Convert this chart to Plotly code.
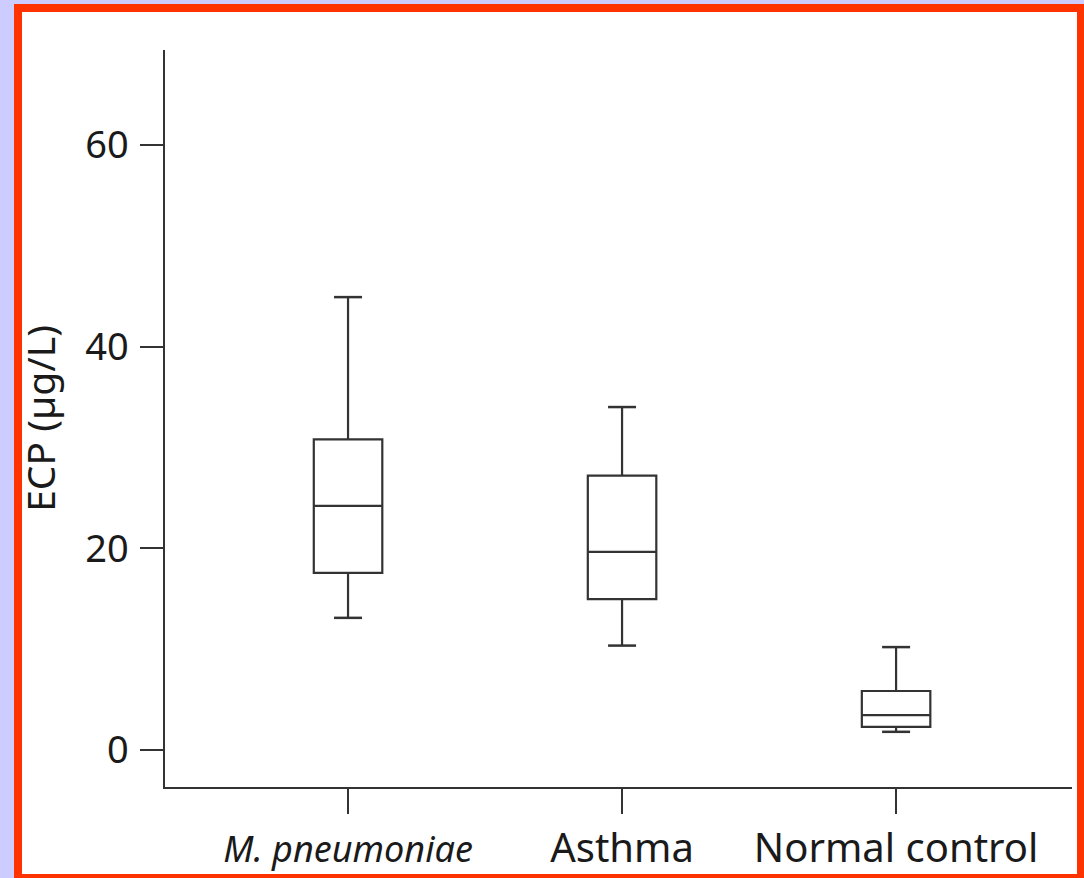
import plotly.graph_objects as go

# Data
groups = ["M. pneumoniae", "Asthma", "Normal control"]
tick_text = ['<span style="font-size:36px"><i>M. pneumoniae</i></span>', "Asthma", "Normal control"]
lower_whisker = [13.1, 10.35, 1.8]
q1_vals = [17.55, 14.95, 2.3]
median_vals = [24.2, 19.65, 3.45]
q3_vals = [30.8, 27.2, 5.85]
upper_whisker = [44.9, 34.0, 10.2]
y_ticks = [0, 20, 40, 60]

W, H = 1084, 878
L, R, T, B = 165, 1072, 50, 787
line_col = "#333333"
font_family = "'Noto Sans', 'Open Sans', sans-serif"

fig = go.Figure()
fig.add_trace(go.Box(
    x=groups, q1=q1_vals, median=median_vals, q3=q3_vals,
    lowerfence=lower_whisker, upperfence=upper_whisker,
    boxpoints=False, width=0.25,
    line=dict(color=line_col, width=2.2),
    fillcolor="rgba(255,255,255,0)",
    whiskerwidth=0, showlegend=False, hoverinfo="skip",
))
# whisker caps
fig.add_trace(go.Scatter(
    x=groups + groups, y=lower_whisker + upper_whisker, mode="markers",
    marker=dict(symbol="line-ew", size=20, line=dict(color=line_col, width=2.5)),
    showlegend=False, hoverinfo="skip",
))

def px_x(p):
    return (p - L) / (R - L)

def px_y(p):
    return (B - p) / (B - T)

shapes = [
    dict(type="rect", xref="paper", yref="paper", layer="below",
         x0=px_x(14), x1=px_x(1084), y0=px_y(4), y1=px_y(878),
         fillcolor="#ff3300", line=dict(width=0)),
    dict(type="rect", xref="paper", yref="paper", layer="below",
         x0=px_x(22), x1=px_x(1077), y0=px_y(12), y1=px_y(874),
         fillcolor="white", line=dict(width=0)),
]

fig.update_layout(
    width=W, height=H,
    margin=dict(l=L, r=W - R, t=T, b=H - B, pad=0, autoexpand=False),
    paper_bgcolor="#ccccff",
    plot_bgcolor="rgba(0,0,0,0)",
    shapes=shapes,
    font=dict(family=font_family, size=38, color="#1a1a1a"),
    xaxis=dict(
        type="category", range=[-0.668, 2.642],
        tickvals=groups, ticktext=tick_text,
        showline=True, linecolor=line_col, linewidth=1.5,
        ticks="outside", ticklen=25, tickwidth=1.5, tickcolor=line_col,
        showgrid=False, zeroline=False, automargin=False,
        tickfont=dict(size=40),
    ),
    yaxis=dict(
        range=[-3.67, 69.4], tickvals=y_ticks,
        showline=True, linecolor=line_col, linewidth=1.5,
        ticks="outside", ticklen=23, tickwidth=1.5, tickcolor=line_col,
        showgrid=False, zeroline=False, automargin=False,
        ticklabelstandoff=4,
        tickfont=dict(size=38),
        title=dict(text="ECP (µg/L)", font=dict(size=39), standoff=18),
    ),
)

fig.write_html("out.html")
